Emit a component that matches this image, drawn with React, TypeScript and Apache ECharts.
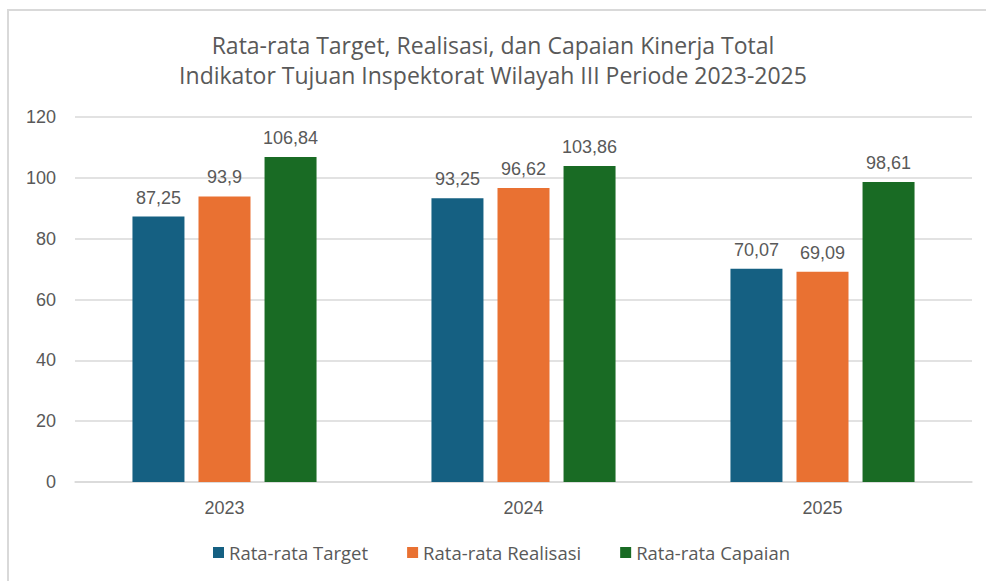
import React, { useEffect, useRef } from "react";
import * as echarts from "echarts";

const categories = ["2023", "2024", "2025"];
const seriesNames = ["Rata-rata Target", "Rata-rata Realisasi", "Rata-rata Capaian"];
const targetValues = [87.25, 93.25, 70.07];
const realisasiValues = [93.9, 96.62, 69.09];
const capaianValues = [106.84, 103.86, 98.61];
const yTicks = [0, 20, 40, 60, 80, 100, 120];
const colors = ["#156082", "#E97132", "#196B24"];
const titleLines = [
  "Rata-rata Target, Realisasi, dan Capaian Kinerja Total",
  "Indikator Tujuan Inspektorat Wilayah III Periode 2023-2025",
];

export default function App() {
  const ref = useRef<HTMLDivElement>(null);
  useEffect(() => {
    document.body.style.margin = "0";
    const chart = echarts.init(ref.current!, null, { renderer: "svg" });
    const values = [targetValues, realisasiValues, capaianValues];
    const fmt = (p: any) => String(p.value).replace(".", ",");
    chart.setOption({
      animation: false,
      backgroundColor: "#ffffff",
      title: {
        text: titleLines.join("\n"),
        left: "center",
        top: 25,
        textStyle: {
          fontFamily: "Open Sans",
          fontSize: 23,
          fontWeight: "normal",
          color: "#595959",
          lineHeight: 30,
        },
      },
      graphic: [
        {
          type: "rect",
          shape: { x: 8, y: 10, width: 1000, height: 600 },
          style: { fill: "none", stroke: "#d9d9d9", lineWidth: 2 },
          silent: true,
        },
      ],
      legend: {
        bottom: 14,
        left: 208,
        itemWidth: 11,
        itemHeight: 11,
        itemGap: 39,
        icon: "rect",
        textStyle: { fontFamily: "Open Sans", fontSize: 18.5, color: "#595959" },
        data: seriesNames,
      },
      grid: { left: 75, right: 14, top: 117, bottom: 99, containLabel: false },
      xAxis: {
        type: "category",
        data: categories,
        axisLine: { lineStyle: { color: "#d9d9d9", width: 1.5 } },
        axisTick: { show: false },
        axisLabel: {
          fontFamily: "Liberation Sans",
          fontSize: 18,
          color: "#595959",
          margin: 17,
        },
      },
      yAxis: {
        type: "value",
        min: yTicks[0],
        max: yTicks[yTicks.length - 1],
        interval: 20,
        axisLine: { show: false },
        axisTick: { show: false },
        splitLine: { lineStyle: { color: "#d9d9d9", width: 1.5 } },
        axisLabel: {
          fontFamily: "Liberation Sans",
          fontSize: 18,
          color: "#595959",
          margin: 19,
        },
      },
      series: seriesNames.map((name, i) => ({
        name,
        type: "bar",
        data: values[i],
        barWidth: 52,
        barGap: "27%",
        itemStyle: { color: colors[i] },
        label: {
          show: true,
          position: "top",
          distance: 10,
          formatter: fmt,
          fontFamily: "Liberation Sans",
          fontSize: 18,
          color: "#595959",
        },
      })),
    });
    return () => chart.dispose();
  }, []);
  return (
    <div
      ref={ref}
      style={{ position: "fixed", left: 0, top: 0, width: 986, height: 581 }}
    />
  );
}
